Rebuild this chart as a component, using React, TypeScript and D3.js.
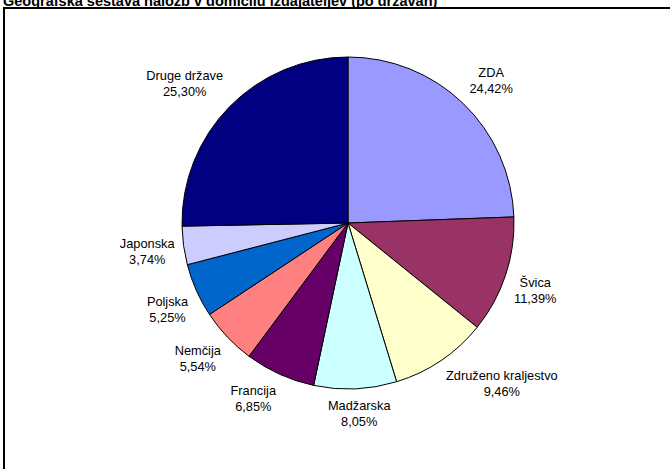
import React from "react";
import * as d3 from "d3";

const titleText = "Geografska sestava naložb v domicilu izdajateljev (po državah)";
const categories = [
  "ZDA",
  "Švica",
  "Združeno kraljestvo",
  "Madžarska",
  "Francija",
  "Nemčija",
  "Poljska",
  "Japonska",
  "Druge države",
];
const values = [24.42, 11.39, 9.46, 8.05, 6.85, 5.54, 5.25, 3.74, 25.3];
const colors = [
  "#9999FF",
  "#993366",
  "#FFFFCC",
  "#CCFFFF",
  "#660066",
  "#FF8080",
  "#0066CC",
  "#CCCCFF",
  "#000080",
];

const W = 670;
const H = 469;
const cx = 348;
const cy = 223;
const R = 166;
const labelR = 175;
const FS = 12.8;
const FONT = `${FS}px Arial`;

function measure(text: string): number {
  const c = document.createElement("canvas").getContext("2d");
  if (!c) return text.length * 7;
  c.font = FONT;
  return c.measureText(text).width;
}

const clamp = (v: number) => Math.max(-1, Math.min(1, v));

export default function App() {
  const data = categories.map((c, i) => ({ name: c, value: values[i], color: colors[i] }));
  const pie = d3
    .pie<any>()
    .sort(null)
    .value((d: any) => d.value)
    .startAngle(0)
    .endAngle(2 * Math.PI);
  const arcs = pie(data);
  const arc = d3.arc<any>().innerRadius(0).outerRadius(R);
  const fmt = (v: number) => v.toFixed(2).replace(".", ",") + "%";

  return (
    <svg
      width={W}
      height={H}
      style={{ position: "absolute", left: 0, top: 0, background: "#fff" }}
      fontFamily="Arial, 'Liberation Sans', sans-serif"
    >
      <rect x={0} y={0} width={W} height={H} fill="#fff" />
      <text x={3} y={6} fontSize={14.5} fontWeight="bold" fill="#000">
        {titleText}
      </text>
      <rect x={4} y={8} width={720} height={520} fill="none" stroke="#000" strokeWidth={2} />
      <g transform={`translate(${cx},${cy})`}>
        {arcs.map((a, i) => (
          <path key={i} d={arc(a) as string} fill={a.data.color} stroke="#000" strokeWidth={1} />
        ))}
        {arcs.map((a, i) => {
          const mid = (a.startAngle + a.endAngle) / 2;
          const s = Math.sin(mid);
          const c = -Math.cos(mid);
          const l1 = a.data.name;
          const l2 = fmt(a.data.value);
          const w = Math.max(measure(l1), measure(l2));
          const h = 32;
          const x = labelR * s + (w / 2) * clamp(s * 2.5);
          const y = labelR * c + (h / 2) * clamp(c * 2.5);
          return (
            <text key={"l" + i} x={x} y={y} textAnchor="middle" fontSize={FS} fill="#000">
              <tspan x={x} y={y - 4}>{l1}</tspan>
              <tspan x={x} y={y + 12}>{l2}</tspan>
            </text>
          );
        })}
      </g>
    </svg>
  );
}
